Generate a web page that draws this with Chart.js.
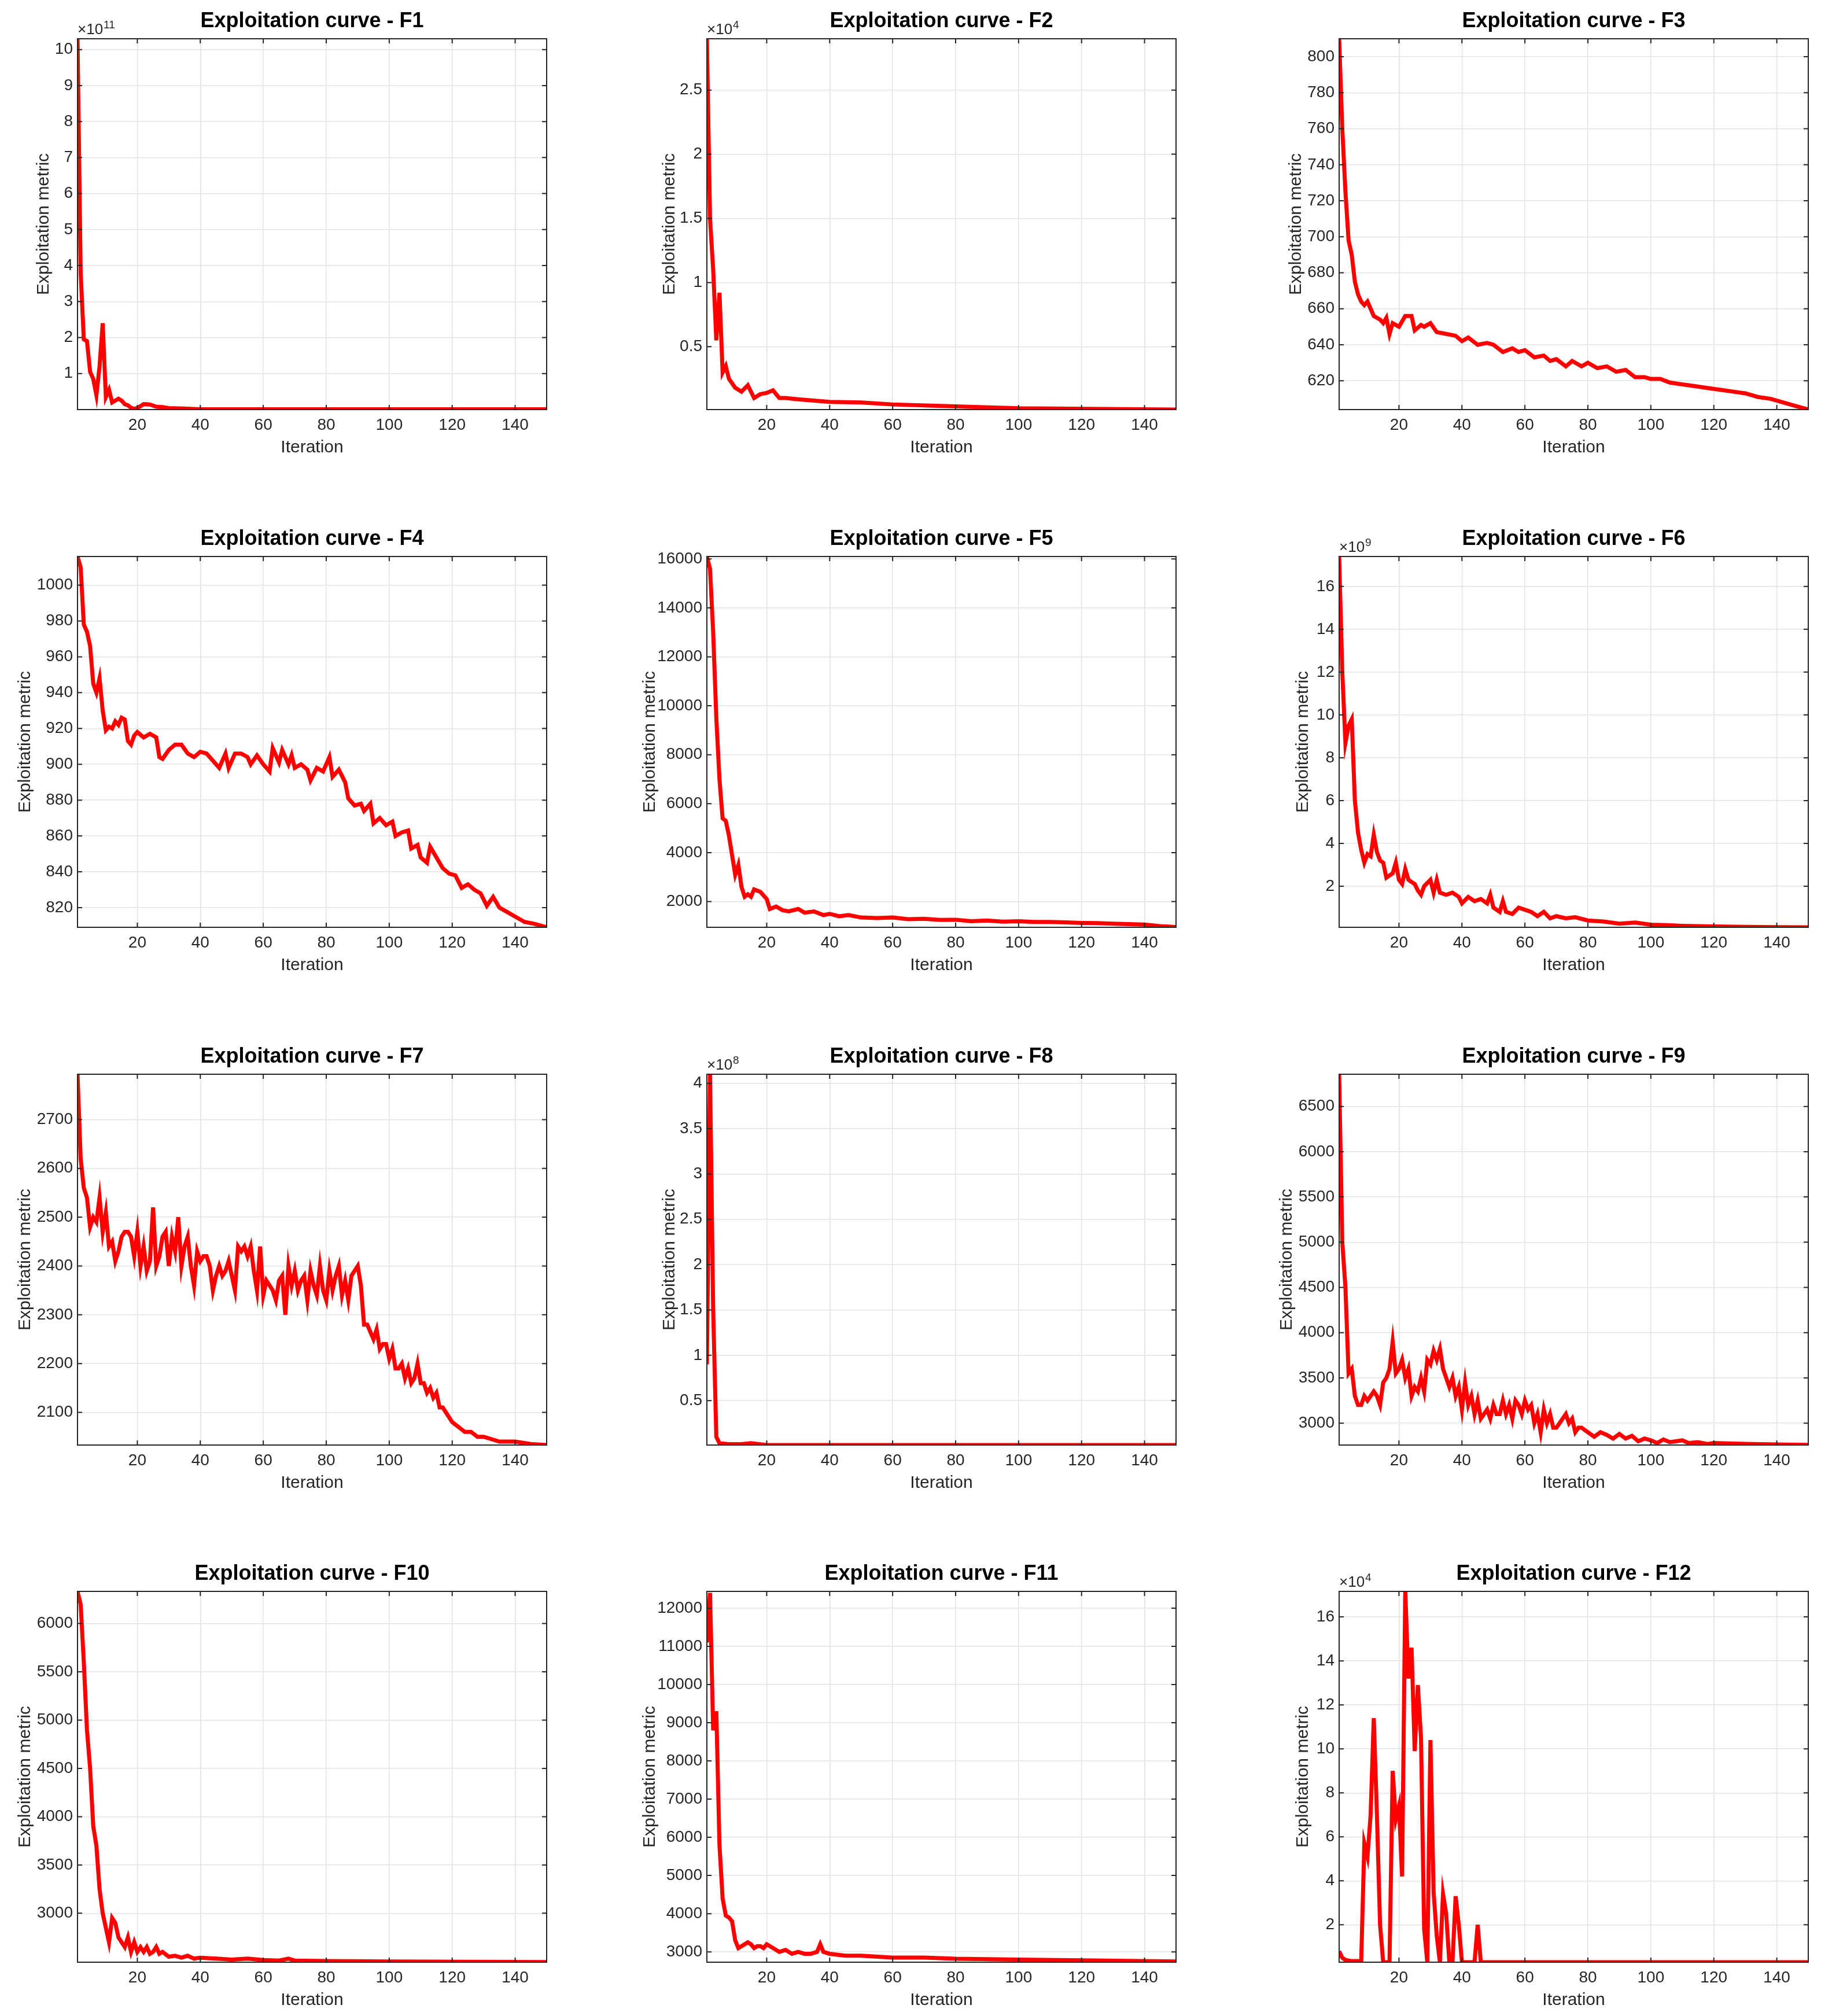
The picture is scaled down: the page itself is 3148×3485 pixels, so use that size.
<!DOCTYPE html>
<html>
<head>
<meta charset="utf-8">
<script src="https://cdn.jsdelivr.net/npm/chart.js@4.4.1/dist/chart.umd.min.js"></script>
<style>
  body { margin: 0; background: #fff; width: 3148px; height: 3485px; position: relative; overflow: hidden; }
  .cell { position: absolute; }
</style>
</head>
<body>
<script>
// iterations (x) and metric values (y) per function
const f1X = [1,2,3,4,5,6,7,8,9,10,11,12,13,14,15,16,17,18,19,20,22,24,26,28,30,35,40,150];
const f1Y = [10.3,3.8,1.95,1.9,1.05,0.85,0.4,1.2,2.4,0.35,0.55,0.2,0.25,0.3,0.25,0.15,0.12,0.05,0.02,0.04,0.15,0.14,0.08,0.07,0.04,0.03,0.01,0.01];

const f2X = [1,2,3,4,5,6,7,8,10,12,14,16,18,20,22,24,26,30,35,40,50,60,80,100,150];
const f2Y = [2.9,1.5,1.1,0.55,0.92,0.3,0.35,0.25,0.18,0.15,0.2,0.1,0.13,0.14,0.16,0.1,0.1,0.09,0.08,0.07,0.065,0.05,0.035,0.02,0.01];

const f3X = [1,2,3,4,5,6,7,8,9,10,11,12,14,15,16,17,18,20,22,24,25,27,28,30,32,35,38,40,42,45,48,50,53,56,58,60,63,66,68,70,73,75,78,80,83,86,89,92,95,98,100,103,106,110,114,118,122,126,130,134,138,142,146,150];
const f3Y = [810,760,725,698,690,675,668,664,662,664,660,656,654,652,655,646,652,650,656,656,648,651,650,652,647,646,645,642,644,640,641,640,636,638,636,637,633,634,631,632,628,631,628,630,627,628,625,626,622,622,621,621,619,618,617,616,615,614,613,611,610,608,606,604];

const f4X = [1,2,3,4,5,6,7,8,9,10,11,12,13,14,15,16,17,18,19,20,22,24,26,27,28,30,32,34,36,38,40,42,44,46,48,49,51,53,55,56,58,60,62,63,65,66,68,69,70,72,74,75,77,79,81,82,84,86,87,89,91,92,94,95,97,99,101,102,104,106,107,109,110,112,113,115,117,119,121,123,125,127,129,131,133,135,137,140,143,146,150];
const f4Y = [1016,1010,978,974,966,945,940,948,930,919,921,920,924,922,926,925,913,911,916,918,915,917,915,904,903,908,911,911,906,904,907,906,902,898,906,898,906,906,904,900,905,900,896,909,901,908,900,905,898,900,897,891,898,896,904,893,897,890,881,877,878,874,878,867,870,866,868,860,862,863,853,855,848,845,854,848,842,839,838,831,833,830,828,821,826,820,818,815,812,811,809];

const f5X = [1,2,3,4,5,6,7,8,9,10,11,12,13,14,15,16,18,20,21,23,25,27,30,32,35,38,40,43,46,50,55,60,65,70,75,80,85,90,95,100,105,110,115,120,125,130,135,140,145,150];
const f5Y = [16100,15600,13000,9500,7000,5400,5300,4700,3900,3100,3500,2600,2200,2300,2200,2500,2400,2100,1700,1800,1650,1600,1700,1550,1600,1450,1500,1400,1450,1350,1330,1350,1280,1300,1250,1260,1200,1230,1180,1200,1170,1170,1150,1130,1120,1100,1080,1060,1000,960];

const f6X = [1,2,3,4,5,6,7,8,9,10,11,12,13,14,15,16,17,18,19,20,21,22,23,24,25,26,27,28,30,31,32,33,35,37,39,40,42,44,46,48,49,50,52,53,54,56,58,60,62,64,66,68,70,73,76,80,85,90,95,100,105,110,120,130,140,150];
const f6Y = [17.4,12,8.7,9.5,9.8,6,4.5,3.7,3.1,3.5,3.4,4.4,3.6,3.2,3.1,2.4,2.5,2.6,3.1,2.3,2.1,2.8,2.3,2.2,2.1,1.8,1.6,2.0,2.3,1.7,2.3,1.7,1.6,1.7,1.5,1.2,1.5,1.3,1.4,1.2,1.6,1.0,0.8,1.3,0.8,0.7,1.0,0.9,0.8,0.6,0.8,0.5,0.6,0.5,0.55,0.4,0.35,0.25,0.3,0.2,0.18,0.15,0.12,0.1,0.09,0.08];

const f7X = [1,2,3,4,5,6,7,8,9,10,11,12,13,14,15,16,17,18,19,20,21,22,23,24,25,26,27,28,29,30,31,32,33,34,35,36,37,38,39,40,41,42,43,44,45,46,47,48,49,50,51,52,53,54,55,56,57,58,59,60,61,62,63,64,65,66,67,68,69,70,71,72,73,74,75,76,77,78,79,80,81,82,83,84,85,86,87,88,89,90,91,92,93,95,96,97,98,99,100,101,102,103,104,105,106,107,108,109,110,111,112,113,114,115,116,117,118,119,120,122,124,126,128,130,135,140,145,150];
const f7Y = [2793,2620,2560,2540,2480,2500,2490,2540,2470,2510,2440,2450,2410,2430,2460,2470,2470,2460,2420,2470,2400,2440,2390,2410,2520,2400,2420,2460,2470,2400,2460,2430,2500,2400,2440,2460,2400,2360,2430,2410,2420,2420,2400,2350,2380,2400,2380,2390,2410,2380,2350,2440,2430,2440,2420,2440,2390,2350,2440,2340,2370,2360,2350,2330,2370,2380,2300,2400,2360,2390,2350,2370,2380,2330,2390,2360,2340,2400,2350,2330,2390,2350,2380,2400,2340,2370,2330,2380,2390,2400,2360,2280,2280,2250,2270,2230,2240,2240,2210,2230,2190,2190,2200,2170,2190,2160,2170,2200,2160,2160,2140,2150,2130,2140,2110,2110,2100,2090,2080,2070,2060,2060,2050,2050,2040,2040,2035,2033];

const f8X = [1,2,3,4,5,8,12,15,20,150];
const f8Y = [0.9,4.1,1.5,0.1,0.03,0.02,0.02,0.03,0.01,0.01];

const f9X = [1,2,3,4,5,6,7,8,9,10,11,12,13,14,15,16,17,18,19,20,21,22,23,24,25,26,27,28,29,30,31,32,33,34,35,36,37,38,39,40,41,42,43,44,45,46,47,48,49,50,51,52,53,54,55,56,57,58,59,60,61,62,63,64,65,66,67,68,69,70,71,72,73,74,75,76,77,78,80,82,84,86,88,90,92,94,96,98,100,102,104,106,108,110,112,115,118,120,125,130,140,150];
const f9Y = [6850,5000,4500,3550,3600,3300,3200,3200,3300,3250,3300,3350,3300,3200,3450,3500,3600,3900,3550,3600,3700,3500,3600,3300,3400,3350,3500,3350,3700,3650,3800,3700,3820,3600,3500,3400,3500,3300,3400,3150,3450,3200,3300,3100,3250,3050,3100,3150,3050,3200,3100,3100,3250,3100,3200,3050,3250,3200,3100,3250,3150,3200,3000,3100,2900,3150,3000,3100,2950,2950,3000,3050,3100,3000,3050,2900,2950,2950,2900,2850,2900,2870,2830,2880,2830,2860,2800,2830,2810,2780,2820,2790,2800,2810,2780,2790,2770,2780,2775,2770,2765,2760];

const f10X = [1,2,3,4,5,6,7,8,9,10,11,12,13,14,15,16,17,18,19,20,21,22,23,24,25,26,27,28,30,32,34,36,38,40,45,50,55,60,65,68,70,80,100,150];
const f10Y = [6330,6200,5600,4900,4500,3900,3700,3250,3000,2850,2700,2950,2900,2750,2700,2650,2750,2600,2700,2600,2650,2600,2650,2580,2600,2650,2580,2600,2550,2560,2540,2560,2530,2540,2530,2520,2530,2515,2510,2530,2510,2505,2500,2495];

const f11X = [1,2,3,4,5,6,7,8,9,10,11,12,13,14,15,16,17,18,19,20,22,24,26,28,30,32,34,36,37,38,40,45,50,60,70,80,90,100,120,150];
const f11Y = [11100,12400,8800,9300,5800,4400,3950,3900,3800,3300,3100,3150,3200,3250,3200,3100,3150,3150,3100,3200,3100,3000,3050,2950,3000,2950,2950,3000,3200,3000,2950,2900,2900,2850,2850,2820,2810,2800,2780,2750];

const f12X = [1,2,3,5,7,8,9,10,11,12,13,14,15,16,17,18,19,20,21,22,23,24,25,26,27,28,29,30,31,32,33,34,35,36,37,38,39,40,44,45,46,150];
const f12Y = [0.8,0.5,0.4,0.35,0.35,0.3,5.7,5.1,7.0,11.4,7.0,2.0,0.3,0.3,0.3,9.0,6.8,7.4,4.2,17.2,13.2,14.6,9.9,12.9,10.5,1.8,0.3,10.4,3.5,1.5,0.3,3.4,2.5,0.3,0.3,3.3,2.0,0.3,0.3,2.0,0.3,0.3];

// y ticks, axis ranges (in displayed units), exponent labels, y-title offset
const panels = [
  { name: "F1",  x: f1X,  y: f1Y,  min: 0,    max: 10.3,  ticks: [1,2,3,4,5,6,7,8,9,10], exp: "11", padL: 80 },
  { name: "F2",  x: f2X,  y: f2Y,  min: 0.01, max: 2.9,   ticks: [0.5,1,1.5,2,2.5], exp: "4", padL: 86 },
  { name: "F3",  x: f3X,  y: f3Y,  min: 604,  max: 810,   ticks: [620,640,660,680,700,720,740,760,780,800], exp: null, padL: 96 },
  { name: "F4",  x: f4X,  y: f4Y,  min: 809,  max: 1016,  ticks: [820,840,860,880,900,920,940,960,980,1000], exp: null, padL: 112 },
  { name: "F5",  x: f5X,  y: f5Y,  min: 950,  max: 16100, ticks: [2000,4000,6000,8000,10000,12000,14000,16000], exp: null, padL: 120 },
  { name: "F6",  x: f6X,  y: f6Y,  min: 0.08, max: 17.4,  ticks: [2,4,6,8,10,12,14,16], exp: "9", padL: 84 },
  { name: "F7",  x: f7X,  y: f7Y,  min: 2033, max: 2793,  ticks: [2100,2200,2300,2400,2500,2600,2700], exp: null, padL: 112 },
  { name: "F8",  x: f8X,  y: f8Y,  min: 0.01, max: 4.1,   ticks: [0.5,1,1.5,2,2.5,3,3.5,4], exp: "8", padL: 86 },
  { name: "F9",  x: f9X,  y: f9Y,  min: 2758, max: 6856,  ticks: [3000,3500,4000,4500,5000,5500,6000,6500], exp: null, padL: 112 },
  { name: "F10", x: f10X, y: f10Y, min: 2493, max: 6333,  ticks: [3000,3500,4000,4500,5000,5500,6000], exp: null, padL: 112 },
  { name: "F11", x: f11X, y: f11Y, min: 2730, max: 12438, ticks: [3000,4000,5000,6000,7000,8000,9000,10000,11000,12000], exp: null, padL: 120 },
  { name: "F12", x: f12X, y: f12Y, min: 0.3,  max: 17.16, ticks: [2,4,6,8,10,12,14,16], exp: "4", padL: 84 }
];
const xTicks = [20, 40, 60, 80, 100, 120, 140];

const colLeft = [134, 1222, 2315];
const rowTop = [67, 962, 1857, 2751];
const plotW = 811, plotH = 641;
const padT = 70, padR = 20, padB = 88;

const frame = {
  id: "frame",
  afterDraw(chart, args, opts) {
    const { ctx, chartArea: a } = chart;
    ctx.save();
    ctx.strokeStyle = "#262626";
    ctx.lineWidth = 2;
    ctx.strokeRect(a.left, a.top, a.right - a.left, a.bottom - a.top);
    // small inward tick marks like the original
    const xs = chart.scales.x, ys = chart.scales.y;
    ctx.beginPath();
    xTicks.forEach(t => {
      const px = xs.getPixelForValue(t);
      ctx.moveTo(px, a.bottom); ctx.lineTo(px, a.bottom - 8);
      ctx.moveTo(px, a.top); ctx.lineTo(px, a.top + 8);
    });
    opts.ticks.forEach(t => {
      const py = ys.getPixelForValue(t);
      ctx.moveTo(a.left, py); ctx.lineTo(a.left + 8, py);
      ctx.moveTo(a.right, py); ctx.lineTo(a.right - 8, py);
    });
    ctx.stroke();
    ctx.fillStyle = "#000";
    ctx.font = "bold 36px Arial, 'Liberation Sans', sans-serif";
    ctx.textAlign = "center";
    ctx.textBaseline = "bottom";
    ctx.fillText(opts.title, (a.left + a.right) / 2, a.top - 12);
    if (opts.exp) {
      ctx.fillStyle = "#262626";
      ctx.textAlign = "left";
      ctx.font = "26px Arial, 'Liberation Sans', sans-serif";
      ctx.fillText("\u00d710", a.left, a.top - 2);
      const w = ctx.measureText("\u00d710").width;
      ctx.font = "19px Arial, 'Liberation Sans', sans-serif";
      ctx.fillText(opts.exp, a.left + w + 1, a.top - 14);
    }
    ctx.restore();
  }
};

const tickFont = { family: "Arial, 'Liberation Sans', sans-serif", size: 28 };
const labelFont = { family: "Arial, 'Liberation Sans', sans-serif", size: 30 };

panels.forEach((p, i) => {
  const col = i % 3, row = Math.floor(i / 3);
  const div = document.createElement("div");
  div.className = "cell";
  const w = p.padL + plotW + padR, h = padT + plotH + padB;
  div.style.left = (colLeft[col] - p.padL) + "px";
  div.style.top = (rowTop[row] - padT) + "px";
  div.style.width = w + "px";
  div.style.height = h + "px";
  const cv = document.createElement("canvas");
  div.appendChild(cv);
  document.body.appendChild(div);

  new Chart(cv, {
    type: "line",
    data: {
      datasets: [{
        data: p.x.map((x, k) => ({ x: x, y: p.y[k] })),
        borderColor: "#ff0000",
        borderWidth: 7,
        pointRadius: 0,
        tension: 0,
        fill: false
      }]
    },
    options: {
      responsive: true,
      maintainAspectRatio: false,
      animation: false,
      devicePixelRatio: 1,
      layout: { padding: { top: padT, right: padR, left: 0, bottom: 0 } },
      plugins: {
        legend: { display: false },
        tooltip: { enabled: false },
        frame: { title: "Exploitation curve - " + p.name, exp: p.exp, ticks: p.ticks }
      },
      scales: {
        x: {
          type: "linear", min: 1, max: 150,
          afterBuildTicks: s => { s.ticks = xTicks.map(v => ({ value: v })); },
          afterFit: s => { s.height = padB; },
          grid: { color: "#e3e3e3", lineWidth: 1.5, drawTicks: false },
          border: { display: false },
          ticks: { color: "#262626", font: tickFont, padding: 10, maxRotation: 0, callback: v => String(v) },
          title: { display: true, text: "Iteration", color: "#262626", font: labelFont, padding: { top: 0 } }
        },
        y: {
          type: "linear", min: p.min, max: p.max,
          afterBuildTicks: s => { s.ticks = p.ticks.map(v => ({ value: v })); },
          afterFit: s => { s.width = p.padL; },
          grid: { color: "#e3e3e3", lineWidth: 1.5, drawTicks: false },
          border: { display: false },
          ticks: { color: "#262626", font: tickFont, padding: 8, callback: v => String(v) },
          title: { display: true, text: "Exploitation metric", color: "#262626", font: labelFont, padding: { bottom: 4 } }
        }
      }
    },
    plugins: [frame]
  });
});
</script>
</body>
</html>
